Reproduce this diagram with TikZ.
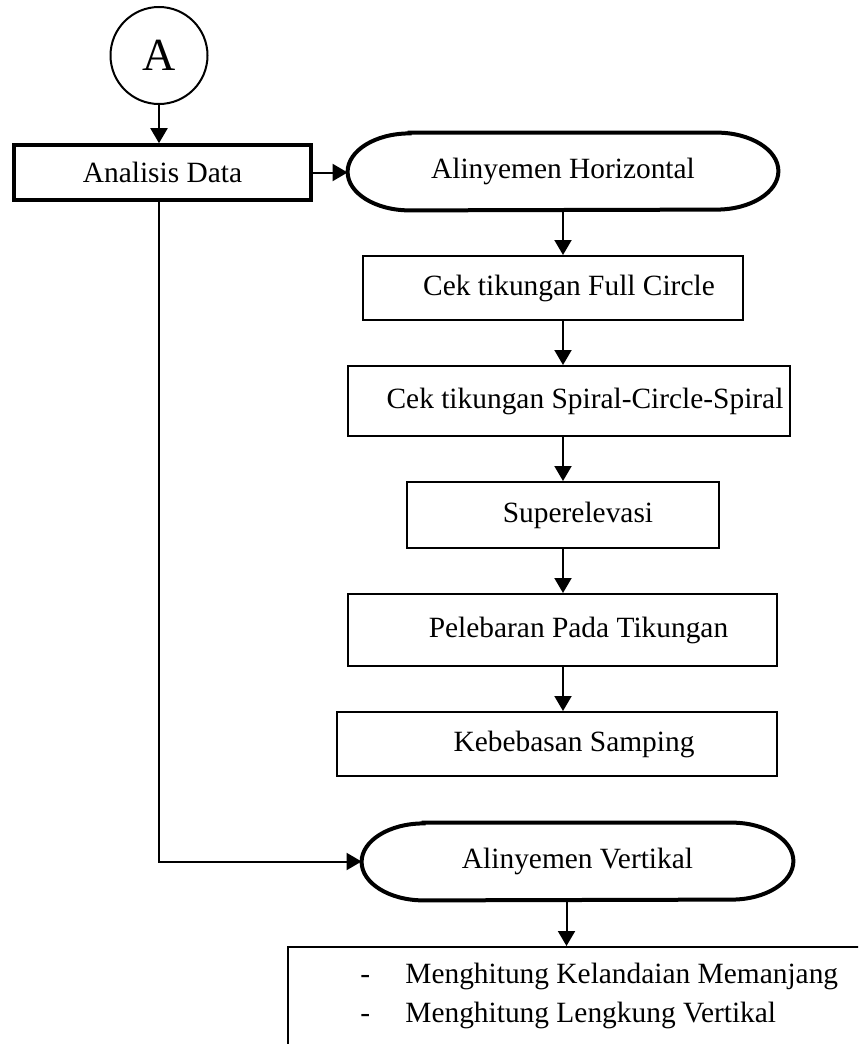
\documentclass[tikz,border=0pt]{standalone}
\usepackage{fontspec}
\setmainfont{Liberation Serif}
\usetikzlibrary{arrows.meta}
\tikzset{
  panah/.style={line width=1pt,-{Triangle[length=7.5pt,width=8.5pt]}},
  kotak/.style={draw,line width=1pt,inner sep=0pt},
}
% bentuk terminal dengan ujung lonjong
\newcommand{\stadion}[1]{\draw[line width=2pt] ([xshift=31pt]#1.north west) -- ([xshift=-31pt]#1.north east) arc[start angle=90,end angle=-90,x radius=31pt,y radius=19.25pt] -- ([xshift=31pt]#1.south west) arc[start angle=270,end angle=90,x radius=31pt,y radius=19.25pt] -- cycle;}
\begin{document}
\begin{tikzpicture}[x=0.5pt,y=-0.5pt,font=\fontsize{14.7pt}{17pt}\selectfont]
	\useasboundingbox (0,0) rectangle (858,1044);
	\clip (0,0) rectangle (858,1044);
	% penghubung dan data
	\node[draw,circle,line width=1pt,minimum size=48.5pt,inner sep=0pt,font=\fontsize{23pt}{26pt}\selectfont] (A) at (159,55.5) {A};
	\node[kotak,line width=1.8pt,minimum width=148.5pt,minimum height=27.5pt] (data) at (162.5,172.5) {Analisis Data};
	% alinyemen horizontal
	\node[inner sep=0pt,minimum width=215pt,minimum height=38.5pt] (AH) at (563,171.5) {Alinyemen Horizontal};
	\stadion{AH}
	\node[kotak,minimum width=190pt,minimum height=32pt] (FC) at (553,288) {\hspace*{16pt}Cek tikungan Full Circle};
	\node[kotak,minimum width=221pt,minimum height=35pt] (SCS) at (569,401) {\hspace*{16pt}Cek tikungan Spiral-Circle-Spiral};
	\node[kotak,minimum width=156pt,minimum height=33pt] (SE) at (563,515) {\hspace*{15pt}Superelevasi};
	\node[kotak,minimum width=214.5pt,minimum height=36pt] (PT) at (562.5,630) {\hspace*{16pt}Pelebaran Pada Tikungan};
	\node[kotak,minimum width=220pt,minimum height=32pt] (KS) at (557,744) {\hspace*{17pt}Kebebasan Samping};
	% alinyemen vertikal
	\node[inner sep=0pt,minimum width=215.5pt,minimum height=38.5pt] (AV) at (577.5,861.5) {Alinyemen Vertikal};
	\stadion{AV}
	\node[kotak,anchor=north west,minimum width=330pt,minimum height=60pt] (hitung) at (287,946) {};
	\foreach\teks [count=\i] in {Menghitung Kelandaian Memanjang,Menghitung Lengkung Vertikal}{
		\node[anchor=base west,inner sep=0pt] (strip\i) at (360,{944+39*\i}) {-};
		\node[anchor=base west,inner sep=0pt] (teks\i) at (405,{944+39*\i}) {\teks};
	}
	% panah
	\draw[panah] (A) -- (A |- data.north);
	\draw[panah] (data.east) -- (data.east -| AH.west);
	\draw[panah] (AH.south) -- (AH.south |- FC.north);
	\foreach\a/\b in {FC/SCS,SCS/SE,SE/PT,PT/KS}{\draw[panah] (AH.south |- \a.south) -- (AH.south |- \b.north);}
	\draw[panah] (A |- data.south) |- (AV.west);
	\draw[panah] ([xshift=-5.5pt]AV.south) -- ([xshift=-5.5pt]AV.south |- hitung.north);
\end{tikzpicture}
\end{document}
